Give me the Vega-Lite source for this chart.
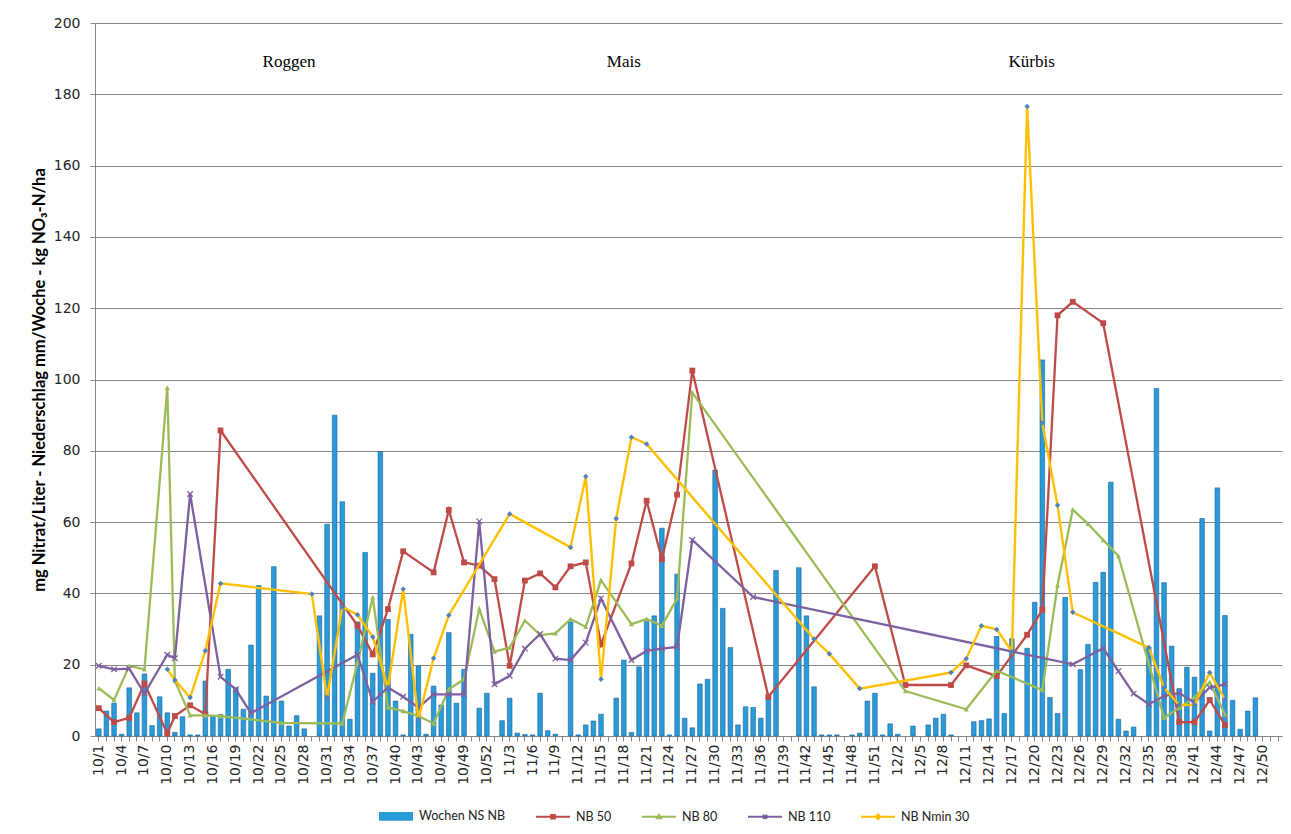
{
  "$schema": "https://vega.github.io/schema/vega-lite/v6.json",
  "width": 1187,
  "height": 713,
  "autosize": {"type": "none"},
  "padding": {"left": 95, "top": 23, "right": 9, "bottom": 98},
  "background": "white",
  "config": {
    "view": {"stroke": null},
    "font": "DejaVu Sans",
    "axisY": {
      "grid": true, "gridColor": "#868686", "gridWidth": 1,
      "domainColor": "#868686", "tickColor": "#868686", "tickSize": 5,
      "labelFont": "DejaVu Sans", "labelFontSize": 14, "labelColor": "#262626", "labelPadding": 10,
      "titleFont": "Lato", "titleFontWeight": "bold", "titleFontSize": 16.5, "titleColor": "#000000", "titlePadding": 6
    }
  },
  "data": {"values": [
    {"w": "10/1", "ns": 2, "nb50": 7.8, "nb80": 13.4, "nb110": 19.7},
    {"w": "10/2", "ns": 7},
    {"w": "10/3", "ns": 9.2, "nb50": 3.9, "nb80": 10.1, "nb110": 18.7},
    {"w": "10/4", "ns": 0.5},
    {"w": "10/5", "ns": 13.5, "nb50": 5.1, "nb80": 19.7, "nb110": 18.9},
    {"w": "10/6", "ns": 6.5},
    {"w": "10/7", "ns": 17.4, "nb50": 14.7, "nb80": 18.7, "nb110": 11.9},
    {"w": "10/8", "ns": 2.9},
    {"w": "10/9", "ns": 11},
    {"w": "10/10", "ns": 6.5, "nb50": 0.7, "nb80": 97.7, "nb110": 22.8, "nmin": 18.7},
    {"w": "10/11", "ns": 1, "nb50": 5.6, "nb80": 15.4, "nb110": 21.8, "nmin": 15.7},
    {"w": "10/12", "ns": 5.4},
    {"w": "10/13", "ns": 0.3, "nb50": 8.6, "nb80": 5.8, "nb110": 67.9, "nmin": 10.8},
    {"w": "10/14", "ns": 0.3},
    {"w": "10/15", "ns": 15.4, "nb50": 6.1, "nb80": 5.8, "nmin": 23.9},
    {"w": "10/16", "ns": 5.6},
    {"w": "10/17", "ns": 6, "nb50": 85.7, "nb80": 5.6, "nb110": 16.6, "nmin": 42.8},
    {"w": "10/18", "ns": 18.7},
    {"w": "10/19", "ns": 13.5, "nb110": 13.1},
    {"w": "10/20", "ns": 7.5},
    {"w": "10/21", "ns": 25.5, "nb110": 6.4},
    {"w": "10/22", "ns": 42.2},
    {"w": "10/23", "ns": 11.2},
    {"w": "10/24", "ns": 47.5},
    {"w": "10/25", "ns": 9.8, "nb80": 3.7},
    {"w": "10/26", "ns": 2.8},
    {"w": "10/27", "ns": 5.7},
    {"w": "10/28", "ns": 2},
    {"w": "10/29", "nmin": 39.8},
    {"w": "10/30", "ns": 33.7},
    {"w": "10/31", "ns": 59.4, "nmin": 10.8},
    {"w": "10/32", "ns": 90},
    {"w": "10/33", "ns": 65.7, "nb80": 3.5, "nmin": 36.2},
    {"w": "10/34", "ns": 4.7},
    {"w": "10/35", "ns": 32, "nb50": 31, "nb80": 20.6, "nb110": 22.8, "nmin": 34},
    {"w": "10/36", "ns": 51.5},
    {"w": "10/37", "ns": 17.6, "nb50": 22.9, "nb80": 38.9, "nb110": 9.6, "nmin": 27.8},
    {"w": "10/38", "ns": 79.8},
    {"w": "10/39", "ns": 32.7, "nb50": 35.6, "nb80": 8, "nb110": 13.6, "nmin": 13.6},
    {"w": "10/40", "ns": 9.8},
    {"w": "10/41", "ns": 0.3, "nb50": 51.8, "nb80": 7, "nb110": 11, "nmin": 41.2},
    {"w": "10/42", "ns": 28.5},
    {"w": "10/43", "ns": 19.6, "nb80": 5.6, "nb110": 8, "nmin": 4.7},
    {"w": "10/44", "ns": 0.5},
    {"w": "10/45", "ns": 14, "nb50": 45.9, "nb80": 3.5, "nb110": 11.7, "nmin": 21.8},
    {"w": "10/46", "ns": 8.7},
    {"w": "10/47", "ns": 29, "nb50": 63.4, "nb80": 13.1, "nb110": 11.7, "nmin": 33.9},
    {"w": "10/48", "ns": 9.2},
    {"w": "10/49", "ns": 18.7, "nb50": 48.7, "nb80": 15.9, "nb110": 11.7},
    {"w": "10/51", "ns": 7.8, "nb50": 47.8, "nb80": 35.6, "nb110": 60.2},
    {"w": "10/52", "ns": 12},
    {"w": "11/1", "nb50": 44, "nb80": 23.7, "nb110": 14.5},
    {"w": "11/2", "ns": 4.3},
    {"w": "11/3", "ns": 10.6, "nb50": 19.7, "nb80": 24.8, "nb110": 16.9, "nmin": 62.3},
    {"w": "11/4", "ns": 0.8},
    {"w": "11/5", "ns": 0.4, "nb50": 43.6, "nb80": 32.4, "nb110": 24.5},
    {"w": "11/6", "ns": 0.3},
    {"w": "11/7", "ns": 12, "nb50": 45.6, "nb80": 28.3, "nb110": 28.6},
    {"w": "11/8", "ns": 1.5},
    {"w": "11/9", "ns": 0.5, "nb50": 41.7, "nb80": 28.8, "nb110": 21.7},
    {"w": "11/11", "ns": 32, "nb50": 47.6, "nb80": 32.8, "nb110": 21.3, "nmin": 52.9},
    {"w": "11/12", "ns": 0.3},
    {"w": "11/13", "ns": 3.1, "nb50": 48.7, "nb80": 30.6, "nb110": 26.2, "nmin": 72.8},
    {"w": "11/14", "ns": 4.2},
    {"w": "11/15", "ns": 6.1, "nb50": 25.7, "nb80": 43.7, "nb110": 38.6, "nmin": 15.9},
    {"w": "11/17", "ns": 10.6, "nmin": 61},
    {"w": "11/18", "ns": 21.3},
    {"w": "11/19", "ns": 1, "nb50": 48.4, "nb80": 31.4, "nb110": 21.3, "nmin": 83.8},
    {"w": "11/20", "ns": 19.4},
    {"w": "11/21", "ns": 32.1, "nb50": 66, "nb80": 32.8, "nb110": 23.9, "nmin": 81.9},
    {"w": "11/22", "ns": 33.7},
    {"w": "11/23", "ns": 58.3, "nb50": 49.6, "nb80": 30.9, "nb110": 24.5},
    {"w": "11/24", "ns": 0.3},
    {"w": "11/25", "ns": 45.4, "nb50": 67.7, "nb80": 38.6, "nb110": 25},
    {"w": "11/26", "ns": 5},
    {"w": "11/27", "ns": 2.3, "nb50": 102.5, "nb80": 96.3, "nb110": 55},
    {"w": "11/28", "ns": 14.6},
    {"w": "11/29", "ns": 15.9},
    {"w": "11/30", "ns": 74.6},
    {"w": "11/31", "ns": 35.8},
    {"w": "11/32", "ns": 24.8},
    {"w": "11/33", "ns": 3.1},
    {"w": "11/34", "ns": 8.2},
    {"w": "11/35", "ns": 8, "nb110": 39},
    {"w": "11/36", "ns": 5},
    {"w": "11/37", "ns": 11, "nb50": 11},
    {"w": "11/38", "ns": 46.4},
    {"w": "11/41", "ns": 47.2},
    {"w": "11/42", "ns": 33.7},
    {"w": "11/43", "ns": 13.8, "nmin": 27.2},
    {"w": "11/44", "ns": 0.3},
    {"w": "11/45", "ns": 0.3, "nmin": 23.1},
    {"w": "11/46", "ns": 0.3},
    {"w": "11/48", "ns": 0.3},
    {"w": "11/49", "ns": 0.8, "nmin": 13.3},
    {"w": "11/50", "ns": 9.8},
    {"w": "11/51", "ns": 12, "nb50": 47.6},
    {"w": "11/52", "ns": 0.3},
    {"w": "12/1", "ns": 3.4},
    {"w": "12/2", "ns": 0.5},
    {"w": "12/3", "nb50": 14.3, "nb80": 12.6},
    {"w": "12/4", "ns": 2.8},
    {"w": "12/6", "ns": 3.1},
    {"w": "12/7", "ns": 5},
    {"w": "12/8", "ns": 6.1},
    {"w": "12/9", "ns": 0.3, "nb50": 14.3, "nmin": 17.8},
    {"w": "12/11", "nb50": 19.8, "nb80": 7.5, "nmin": 21.7},
    {"w": "12/12", "ns": 4},
    {"w": "12/13", "ns": 4.3, "nmin": 30.9},
    {"w": "12/14", "ns": 4.8},
    {"w": "12/15", "ns": 27.9, "nb50": 16.8, "nb80": 18.3, "nmin": 29.9},
    {"w": "12/16", "ns": 6.3},
    {"w": "12/17", "ns": 27.3, "nmin": 23.7},
    {"w": "12/19", "ns": 24.6, "nb50": 28.4, "nmin": 176.6},
    {"w": "12/20", "ns": 37.5},
    {"w": "12/21", "ns": 105.5, "nb50": 35.4, "nb80": 12.9, "nmin": 87.8},
    {"w": "12/22", "ns": 10.8},
    {"w": "12/23", "ns": 6.3, "nb50": 118, "nb80": 42.3, "nmin": 64.7},
    {"w": "12/24", "ns": 38.9},
    {"w": "12/25", "nb50": 121.8, "nb80": 63.5, "nb110": 20.1, "nmin": 34.7},
    {"w": "12/26", "ns": 18.6},
    {"w": "12/27", "ns": 25.7, "nb80": 59.5},
    {"w": "12/28", "ns": 43.1},
    {"w": "12/29", "ns": 45.9, "nb50": 115.8, "nb80": 55, "nb110": 24.6},
    {"w": "12/30", "ns": 71.2},
    {"w": "12/31", "ns": 4.7, "nb80": 50.5, "nb110": 18.2},
    {"w": "12/32", "ns": 1.4},
    {"w": "12/33", "ns": 2.5, "nb110": 11.9},
    {"w": "12/35", "ns": 24.8, "nb110": 8.9, "nmin": 24.8},
    {"w": "12/36", "ns": 97.5},
    {"w": "12/37", "ns": 43, "nb80": 5.1, "nb110": 11.2, "nmin": 13.6},
    {"w": "12/38", "ns": 25.2},
    {"w": "12/39", "ns": 13.3, "nb50": 3.9, "nb80": 7.9, "nb110": 12.1, "nmin": 8.7},
    {"w": "12/40", "ns": 19.3},
    {"w": "12/41", "ns": 16.5, "nb50": 3.9, "nb80": 10.9, "nb110": 9.3, "nmin": 8.7},
    {"w": "12/42", "ns": 61},
    {"w": "12/43", "ns": 1.4, "nb50": 10.1, "nb80": 15.1, "nb110": 13.6, "nmin": 17.8},
    {"w": "12/44", "ns": 69.6},
    {"w": "12/45", "ns": 33.8, "nb50": 3.1, "nb80": 6.1, "nb110": 14.5, "nmin": 10.3},
    {"w": "12/46", "ns": 10},
    {"w": "12/47", "ns": 1.9},
    {"w": "12/48", "ns": 7},
    {"w": "12/49", "ns": 10.7}
  ]},
  "encoding": {
    "x": {
      "field": "w",
      "type": "ordinal",
      "scale": {
        "paddingInner": 0,
        "paddingOuter": 0,
        "domain": ["10/1","10/2","10/3","10/4","10/5","10/6","10/7","10/8","10/9","10/10","10/11","10/12","10/13","10/14","10/15","10/16","10/17","10/18","10/19","10/20","10/21","10/22","10/23","10/24","10/25","10/26","10/27","10/28","10/29","10/30","10/31","10/32","10/33","10/34","10/35","10/36","10/37","10/38","10/39","10/40","10/41","10/42","10/43","10/44","10/45","10/46","10/47","10/48","10/49","10/50","10/51","10/52",
          "11/1","11/2","11/3","11/4","11/5","11/6","11/7","11/8","11/9","11/10","11/11","11/12","11/13","11/14","11/15","11/16","11/17","11/18","11/19","11/20","11/21","11/22","11/23","11/24","11/25","11/26","11/27","11/28","11/29","11/30","11/31","11/32","11/33","11/34","11/35","11/36","11/37","11/38","11/39","11/40","11/41","11/42","11/43","11/44","11/45","11/46","11/47","11/48","11/49","11/50","11/51","11/52",
          "12/1","12/2","12/3","12/4","12/5","12/6","12/7","12/8","12/9","12/10","12/11","12/12","12/13","12/14","12/15","12/16","12/17","12/18","12/19","12/20","12/21","12/22","12/23","12/24","12/25","12/26","12/27","12/28","12/29","12/30","12/31","12/32","12/33","12/34","12/35","12/36","12/37","12/38","12/39","12/40","12/41","12/42","12/43","12/44","12/45","12/46","12/47","12/48","12/49","12/50","12/51","12/52"]
      },
      "axis": {
        "title": null,
        "labelAngle": -90,
        "labelFont": "DejaVu Sans",
        "labelFontSize": 14,
        "labelColor": "#262626",
        "labelExpr": "((parseInt(slice(datum.value, 0, 2)) - 10) * 52 + parseInt(slice(datum.value, 3)) - 1) % 3 === 0 ? datum.value : ''",
        "labelOverlap": false,
        "labelBound": false,
        "labelPadding": 3,
        "tickSize": 5,
        "tickColor": "#868686",
        "domainColor": "#868686",
        "grid": false
      }
    }
  },
  "layer": [
    {
      "transform": [{"filter": "isValid(datum.ns)"}],
      "mark": {"type": "bar", "size": 4.6, "color": "#2A9AD8", "stroke": "#15619B", "strokeWidth": 0.6},
      "encoding": {
        "y": {
          "field": "ns", "type": "quantitative",
          "scale": {"domain": [0, 200], "nice": false},
          "axis": {"title": "mg Nitrat/Liter - Niederschlag mm/Woche - kg NO₃-N/ha", "values": [0, 20, 40, 60, 80, 100, 120, 140, 160, 180, 200]}
        }
      }
    },
    {
      "transform": [{"filter": "isValid(datum.nb50)"}],
      "mark": {"type": "line", "strokeWidth": 2.3, "color": "#BE4B48"},
      "encoding": {
        "y": {"field": "nb50", "type": "quantitative", "axis": {"title": "mg Nitrat/Liter - Niederschlag mm/Woche - kg NO₃-N/ha", "values": [0, 20, 40, 60, 80, 100, 120, 140, 160, 180, 200]}}
      }
    },
    {
      "transform": [{"filter": "isValid(datum.nb50)"}],
      "mark": {"type": "point", "shape": "square", "filled": true, "color": "#BE4B48", "size": 34, "opacity": 1},
      "encoding": {"y": {"field": "nb50", "type": "quantitative", "axis": {"title": "mg Nitrat/Liter - Niederschlag mm/Woche - kg NO₃-N/ha", "values": [0, 20, 40, 60, 80, 100, 120, 140, 160, 180, 200]}}}
    },
    {
      "transform": [{"filter": "isValid(datum.nb80)"}],
      "mark": {"type": "line", "strokeWidth": 2.3, "color": "#9BBB59"},
      "encoding": {
        "y": {"field": "nb80", "type": "quantitative", "axis": {"title": "mg Nitrat/Liter - Niederschlag mm/Woche - kg NO₃-N/ha", "values": [0, 20, 40, 60, 80, 100, 120, 140, 160, 180, 200]}}
      }
    },
    {
      "transform": [{"filter": "isValid(datum.nb80)"}],
      "mark": {"type": "point", "shape": "triangle-up", "filled": true, "color": "#9BBB59", "size": 26, "opacity": 1},
      "encoding": {"y": {"field": "nb80", "type": "quantitative", "axis": {"title": "mg Nitrat/Liter - Niederschlag mm/Woche - kg NO₃-N/ha", "values": [0, 20, 40, 60, 80, 100, 120, 140, 160, 180, 200]}}}
    },
    {
      "transform": [{"filter": "isValid(datum.nb110)"}],
      "mark": {"type": "line", "strokeWidth": 2.3, "color": "#7D60A0"},
      "encoding": {
        "y": {"field": "nb110", "type": "quantitative", "axis": {"title": "mg Nitrat/Liter - Niederschlag mm/Woche - kg NO₃-N/ha", "values": [0, 20, 40, 60, 80, 100, 120, 140, 160, 180, 200]}}
      }
    },
    {
      "transform": [{"filter": "isValid(datum.nb110)"}],
      "mark": {"type": "point", "shape": "M-1,-1L1,1M-1,1L1,-1", "filled": false, "color": "#7D60A0", "strokeWidth": 1.3, "size": 30, "opacity": 1},
      "encoding": {"y": {"field": "nb110", "type": "quantitative", "axis": {"title": "mg Nitrat/Liter - Niederschlag mm/Woche - kg NO₃-N/ha", "values": [0, 20, 40, 60, 80, 100, 120, 140, 160, 180, 200]}}}
    },
    {
      "transform": [{"filter": "isValid(datum.nmin)"}],
      "mark": {"type": "line", "strokeWidth": 2.4, "color": "#FFC000"},
      "encoding": {
        "y": {"field": "nmin", "type": "quantitative", "axis": {"title": "mg Nitrat/Liter - Niederschlag mm/Woche - kg NO₃-N/ha", "values": [0, 20, 40, 60, 80, 100, 120, 140, 160, 180, 200]}}
      }
    },
    {
      "transform": [{"filter": "isValid(datum.nmin)"}],
      "mark": {"type": "point", "shape": "diamond", "filled": true, "color": "#4F81BD", "size": 30, "opacity": 1},
      "encoding": {"y": {"field": "nmin", "type": "quantitative", "axis": {"title": "mg Nitrat/Liter - Niederschlag mm/Woche - kg NO₃-N/ha", "values": [0, 20, 40, 60, 80, 100, 120, 140, 160, 180, 200]}}}
    },
    {
      "data": {"values": [{"s": "Wochen NS NB"}, {"s": "NB 50"}, {"s": "NB 80"}, {"s": "NB 110"}, {"s": "NB Nmin 30"}]},
      "mark": {"type": "point", "opacity": 0, "filled": false},
      "encoding": {
        "x": {"datum": "10/1", "type": "ordinal"},
        "y": {"datum": 0, "type": "quantitative", "axis": {"title": "mg Nitrat/Liter - Niederschlag mm/Woche - kg NO₃-N/ha", "values": [0, 20, 40, 60, 80, 100, 120, 140, 160, 180, 200]}},
        "stroke": {
          "field": "s", "type": "nominal",
          "scale": {"domain": ["Wochen NS NB", "NB 50", "NB 80", "NB 110", "NB Nmin 30"], "range": ["#2A9AD8", "#BE4B48", "#9BBB59", "#7D60A0", "#FFC000"]},
          "legend": {
            "orient": "none", "legendX": 283, "legendY": 775, "padding": 0,
            "direction": "horizontal", "columns": 5, "title": null,
            "symbolSize": 1156, "symbolStrokeWidth": 2, "symbolOpacity": 1,
            "labelFont": "Lato", "labelFontSize": 12.5, "labelColor": "#222222",
            "labelOffset": 5, "columnPadding": 26
          }
        },
        "shape": {
          "field": "s", "type": "nominal",
          "scale": {"domain": ["Wochen NS NB", "NB 50", "NB 80", "NB 110", "NB Nmin 30"], "range": [
            "M-1,-0.2H1M-1,-0.15H1M-1,-0.1H1M-1,-0.05H1M-1,0H1M-1,0.05H1M-1,0.1H1M-1,0.15H1M-1,0.2H1",
            "M-1,0H1M-0.11,-0.11H0.11V0.11H-0.11ZM-0.05,-0.05H0.05V0.05H-0.05Z",
            "M-1,0H1M-0.12,0.09L0,-0.11L0.12,0.09Z",
            "M-1,0H1M-0.12,-0.12L0.12,0.12M-0.12,0.12L0.12,-0.12",
            "M-1,0H1M0,-0.14L0.14,0L0,0.14L-0.14,0Z"]},
          "legend": {"title": null}
        }
      }
    },
    {
      "data": {"values": [{}]},
      "mark": {"type": "text", "font": "Liberation Serif", "fontSize": 17, "color": "#000000", "align": "center", "baseline": "middle"},
      "encoding": {
        "x": {"datum": "10/26", "type": "ordinal"},
        "y": {"datum": 189, "type": "quantitative", "axis": {"title": "mg Nitrat/Liter - Niederschlag mm/Woche - kg NO₃-N/ha", "values": [0, 20, 40, 60, 80, 100, 120, 140, 160, 180, 200]}},
        "text": {"value": "Roggen"}
      }
    },
    {
      "data": {"values": [{}]},
      "mark": {"type": "text", "font": "Liberation Serif", "fontSize": 17, "color": "#000000", "align": "center", "baseline": "middle"},
      "encoding": {
        "x": {"datum": "11/18", "type": "ordinal"},
        "y": {"datum": 189, "type": "quantitative", "axis": {"title": "mg Nitrat/Liter - Niederschlag mm/Woche - kg NO₃-N/ha", "values": [0, 20, 40, 60, 80, 100, 120, 140, 160, 180, 200]}},
        "text": {"value": "Mais"}
      }
    },
    {
      "data": {"values": [{}]},
      "mark": {"type": "text", "font": "Liberation Serif", "fontSize": 17, "color": "#000000", "align": "center", "baseline": "middle", "dx": -3},
      "encoding": {
        "x": {"datum": "12/20", "type": "ordinal"},
        "y": {"datum": 189, "type": "quantitative", "axis": {"title": "mg Nitrat/Liter - Niederschlag mm/Woche - kg NO₃-N/ha", "values": [0, 20, 40, 60, 80, 100, 120, 140, 160, 180, 200]}},
        "text": {"value": "Kürbis"}
      }
    }
  ]
}
